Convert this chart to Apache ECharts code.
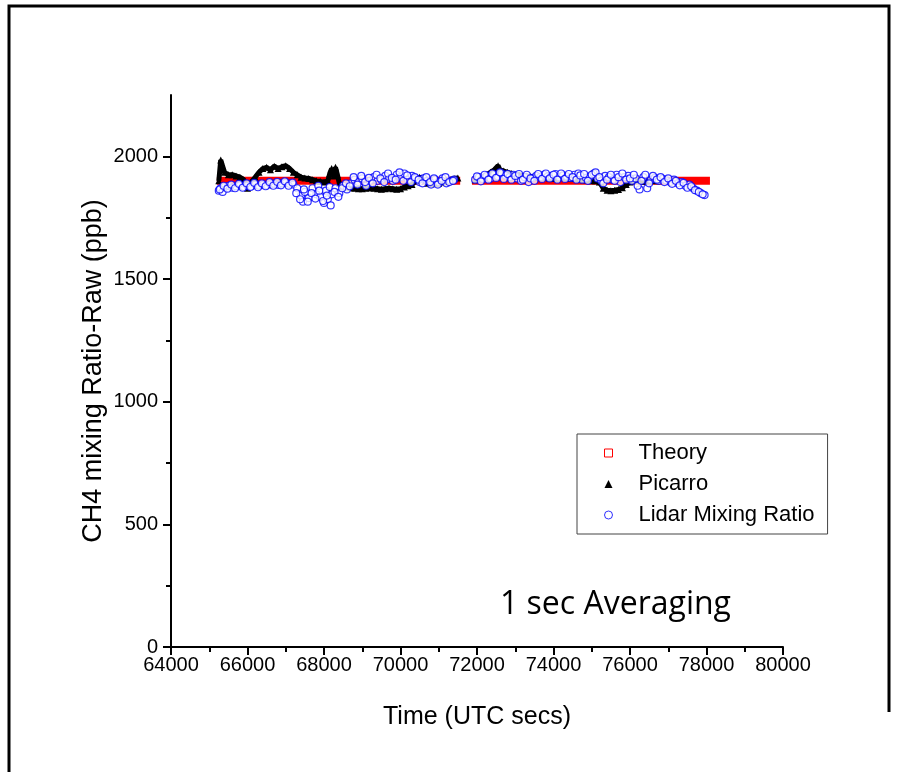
<!DOCTYPE html>
<html>
<head>
<meta charset="utf-8">
<script src="https://cdn.jsdelivr.net/npm/echarts@6/dist/echarts.min.js"></script>
<style>html,body{margin:0;padding:0;background:#fff}#c{width:900px;height:772px}</style>
</head>
<body>
<div id="c"></div>
<script>
// ---- data ----
const xTicks = [64000, 66000, 68000, 70000, 72000, 74000, 76000, 78000, 80000];
const yTicks = [0, 500, 1000, 1500, 2000];

const theoryValue = 1900;
const theorySeg1 = [65200, 71560];
const theorySeg2 = [71870, 78090];

const picarroT1 = [65250,65300,65350,65400,65500,65600,65700,65800,65900,66000,66100,66200,66300,66400,66500,66600,66700,66800,66900,67000,67100,67200,67300,67400,67500,67600,67700,67800,67900,68000,68100,68150,68200,68250,68300,68350,68400,68500,68600,68700,68800,68900,69000,69100,69200,69300,69400,69500,69600,69700,69800,69900,70000,70100,70200,70300,70400,70500,70600,70700,70800,70900,71000,71100,71200,71300,71400,71500];
const picarroV1 = [1900,1985,1960,1935,1925,1925,1920,1915,1905,1870,1895,1915,1935,1950,1955,1945,1960,1950,1958,1962,1950,1935,1925,1915,1912,1910,1905,1900,1898,1895,1900,1930,1950,1920,1955,1925,1890,1880,1875,1872,1870,1868,1868,1870,1872,1870,1868,1866,1868,1870,1868,1866,1868,1875,1880,1885,1900,1915,1905,1890,1888,1892,1890,1895,1900,1905,1910,1912];
const picarroT2 = [71950,72050,72150,72250,72350,72450,72550,72600,72700,72800,72900,73000,73100,73200,73300,73400,73500,73600,73700,73800,73900,74000,74100,74200,74300,74400,74500,74600,74700,74800,74900,75000,75100,75200,75300,75400,75500,75600,75700,75800,75900,76000,76100,76200,76300,76400,76500,76600,76700];
const picarroV2 = [1905,1910,1915,1925,1935,1945,1962,1945,1940,1935,1930,1925,1925,1920,1920,1918,1915,1915,1918,1915,1912,1910,1912,1915,1915,1912,1910,1910,1908,1905,1905,1900,1900,1895,1870,1862,1860,1862,1865,1872,1885,1895,1900,1902,1900,1898,1900,1902,1900];

const lidarT1 = [65250,65300,65350,65400,65500,65600,65700,65800,65900,66000,66100,66200,66300,66400,66500,66600,66700,66800,66900,67000,67100,67200,67300,67400,67450,67500,67600,67700,67800,67850,67900,68000,68050,68100,68150,68200,68300,68400,68500,68600,68700,68800,68900,69000,69100,69200,69300,69400,69500,69600,69700,69800,69900,70000,70100,70200,70300,70400,70500,70600,70700,70800,70900,71000,71100,71200,71300,71400];
const lidarV1 = [1860,1870,1855,1875,1880,1872,1878,1882,1876,1880,1878,1885,1880,1884,1882,1886,1888,1884,1890,1892,1888,1885,1870,1840,1815,1855,1830,1870,1845,1880,1835,1810,1860,1825,1875,1845,1870,1850,1880,1865,1890,1905,1895,1910,1880,1900,1915,1900,1905,1920,1908,1900,1925,1915,1930,1905,1920,1910,1895,1910,1900,1885,1905,1895,1910,1890,1900,1905];
const lidarT2 = [71950,72050,72150,72250,72350,72450,72550,72650,72750,72850,72950,73050,73150,73250,73350,73450,73550,73650,73750,73850,73950,74050,74150,74250,74350,74450,74550,74650,74750,74850,74950,75050,75150,75250,75350,75450,75550,75650,75750,75850,75950,76050,76150,76250,76350,76450,76550,76650,76750,76850,76950,77050,77150,77250,77350,77450,77550,77650,77750,77850,77950];
const lidarV2 = [1905,1915,1908,1920,1910,1925,1918,1930,1922,1915,1925,1910,1900,1915,1895,1912,1920,1915,1925,1918,1920,1928,1915,1922,1918,1912,1925,1930,1905,1912,1918,1930,1910,1900,1920,1915,1905,1925,1895,1915,1920,1900,1910,1865,1915,1870,1905,1912,1900,1908,1902,1895,1905,1890,1895,1880,1885,1870,1860,1850,1842];
// additional Lidar samples between the ones above
const lidarExtra1 = [[65275,1865],[65375,1880],[65475,1868],[65575,1885],[65675,1870],[65775,1888],[65875,1872],[65975,1890],[66075,1875],[66175,1892],[66275,1874],[66375,1890],[66475,1878],[66575,1895],[66675,1880],[66775,1896],[66875,1882],[66975,1898],[67075,1880],[67175,1893],[67275,1850],[67375,1825],[67475,1865],[67575,1815],[67675,1850],[67775,1828],[67875,1860],[67975,1818],[68075,1840],[68175,1800],[68275,1855],[68375,1835],[68475,1870],[68575,1890],[68675,1878],[68775,1915],[68875,1885],[68975,1920],[69075,1895],[69175,1912],[69275,1890],[69375,1925],[69475,1910],[69575,1895],[69675,1930],[69775,1912],[69875,1905],[69975,1935],[70075,1900],[70175,1922],[70275,1895],[70375,1915],[70475,1905],[70575,1890],[70675,1915],[70775,1895],[70875,1910],[70975,1885],[71075,1900],[71175,1915],[71275,1895],[71375,1900]];
const lidarExtra2 = [[72000,1918],[72100,1898],[72200,1925],[72300,1905],[72400,1930],[72500,1912],[72600,1935],[72700,1908],[72800,1928],[72900,1905],[73000,1920],[73100,1928],[73200,1905],[73300,1925],[73400,1910],[73500,1900],[73600,1928],[73700,1908],[73800,1930],[73900,1910],[74000,1925],[74100,1905],[74200,1930],[74300,1908],[74400,1928],[74500,1915],[74600,1905],[74700,1922],[74800,1928],[74900,1900],[75000,1925],[75100,1935],[75200,1915],[75300,1890],[75400,1905],[75500,1925],[75600,1900],[75700,1915],[75800,1930],[75900,1905],[76000,1910],[76100,1925],[76200,1880],[76300,1900],[76400,1925],[76500,1890],[76600,1920],[76700,1905],[76800,1915],[76900,1895],[77000,1910],[77100,1888],[77200,1900],[77300,1882],[77400,1892],[77500,1872],[77600,1878],[77700,1862],[77800,1855],[77900,1845]];

// ---- build ----
const zip = (t, v) => t.map((x, i) => [x, v[i]]);
const lidarData = zip(lidarT1, lidarV1).concat(lidarExtra1, zip(lidarT2, lidarV2), lidarExtra2);

const FONT = 'Liberation Sans';
const chart = echarts.init(document.getElementById('c'), null, {renderer: 'canvas'});
chart.setOption({
  backgroundColor: '#ffffff',
  animation: false,
  grid: {left: 171, right: 117, top: 95, bottom: 125, containLabel: false},
  xAxis: [{
    type: 'value', min: 64000, max: 80000, interval: 2000,
    name: 'Time (UTC secs)', nameLocation: 'middle', nameGap: 58,
    nameTextStyle: {fontFamily: FONT, fontSize: 25, color: '#000'},
    axisLine: {show: true, onZero: false, lineStyle: {color: '#000', width: 2}},
    axisTick: {show: true, inside: false, length: 8, lineStyle: {color: '#000', width: 2}},
    minorTick: {show: true, splitNumber: 2, length: 5, lineStyle: {color: '#000', width: 2}},
    axisLabel: {fontFamily: FONT, fontSize: 20, color: '#000', margin: 8,
      formatter: v => xTicks.includes(v) ? String(v) : ''},
    splitLine: {show: false}
  }],
  yAxis: [{
    type: 'value', min: 0, max: 2250,
    name: 'CH4 mixing Ratio-Raw (ppb)', nameLocation: 'middle', nameGap: 64, nameRotate: 90,
    nameMoveOverlap: false,
    nameTextStyle: {fontFamily: FONT, fontSize: 27, color: '#000'},
    axisLine: {show: true, onZero: false, lineStyle: {color: '#000', width: 2}},
    axisTick: {show: true, length: 8, customValues: yTicks, lineStyle: {color: '#000', width: 2}},
    axisLabel: {fontFamily: FONT, fontSize: 20, color: '#000', margin: 13, customValues: yTicks,
      formatter: v => String(v)},
    splitLine: {show: false}
  }, {
    type: 'value', min: 0, max: 2250, position: 'left',
    axisLine: {show: false},
    axisTick: {show: true, length: 5, customValues: [250, 750, 1250, 1750], lineStyle: {color: '#000', width: 2}},
    axisLabel: {show: false},
    splitLine: {show: false}
  }],
  legend: {
    orient: 'vertical', left: 577, top: 434,
    padding: [8, 13, 8, 27],
    itemWidth: 8, itemHeight: 8, itemGap: 9,
    borderColor: '#444', borderWidth: 1, backgroundColor: '#fff',
    textStyle: {fontFamily: FONT, fontSize: 22, color: '#000', padding: [0, 0, 0, 21]},
    data: [
      {name: 'Theory', icon: 'rect', itemStyle: {color: '#fff', borderColor: '#ff0000', borderWidth: 1}},
      {name: 'Picarro', icon: 'triangle', itemStyle: {color: '#000', borderWidth: 0}},
      {name: 'Lidar Mixing Ratio', icon: 'circle', itemStyle: {color: '#fff', borderColor: '#0000ff', borderWidth: 1}}
    ]
  },
  series: [
    {name: 'Theory', type: 'line', symbol: 'none', z: 1,
      lineStyle: {color: '#ff0000', width: 8, cap: 'butt'}, itemStyle: {color: '#ff0000'},
      data: theorySeg1.map(t => [t, theoryValue])},
    {name: 'Theory', type: 'line', symbol: 'none', z: 1,
      lineStyle: {color: '#ff0000', width: 8, cap: 'butt'}, itemStyle: {color: '#ff0000'},
      data: theorySeg2.map(t => [t, theoryValue])},
    {name: 'Picarro', type: 'line', symbol: 'triangle', symbolSize: 7, showAllSymbol: true, z: 2,
      lineStyle: {color: '#000', width: 5}, itemStyle: {color: '#000'},
      data: zip(picarroT1, picarroV1)},
    {name: 'Picarro', type: 'line', symbol: 'triangle', symbolSize: 7, showAllSymbol: true, z: 2,
      lineStyle: {color: '#000', width: 5}, itemStyle: {color: '#000'},
      data: zip(picarroT2, picarroV2)},
    {name: 'Lidar Mixing Ratio', type: 'scatter', symbol: 'circle', symbolSize: 7, z: 3,
      itemStyle: {color: '#fff', borderColor: '#0000ff', borderWidth: 1.2},
      data: lidarData}
  ],
  graphic: [
    {type: 'polyline', shape: {points: [[9, 772], [9, 6], [889, 6], [889, 712]]}, style: {stroke: '#000', lineWidth: 3, fill: null}, silent: true},
    {type: 'text', left: 500, top: 589, style: {text: '1 sec Averaging', fontFamily: 'Open Sans', fontSize: 32, fill: '#000'}}
  ]
});
</script>
</body>
</html>
